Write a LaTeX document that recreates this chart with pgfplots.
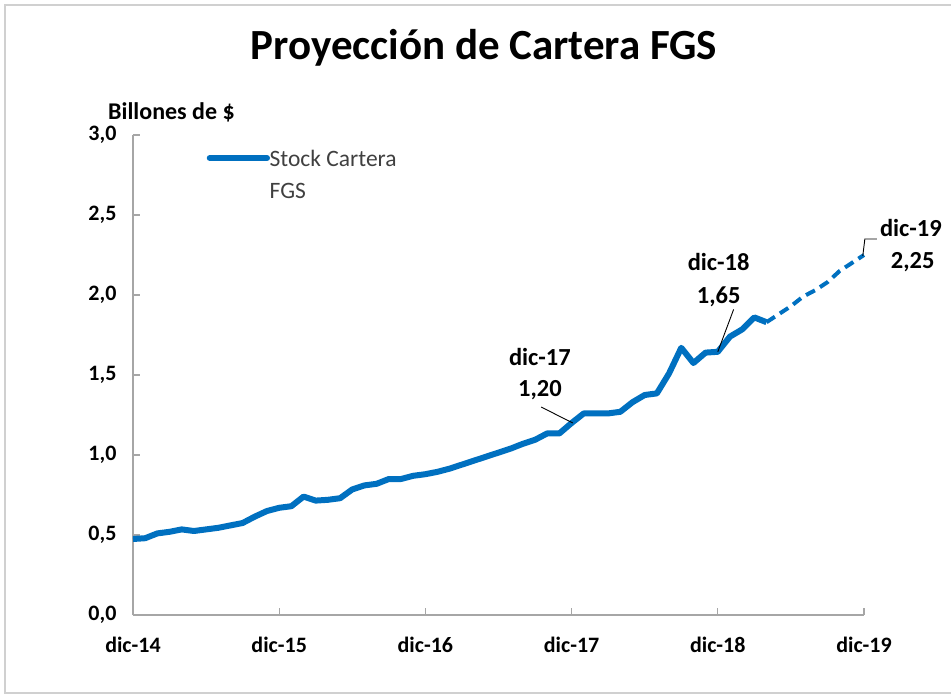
\documentclass[border=0pt]{standalone}
\usepackage{fontspec}
\setmainfont{Carlito}
\usepackage{pgfplots}
\pgfplotsset{compat=1.18}
\definecolor{cblue}{HTML}{0070C0}
\definecolor{caxis}{HTML}{A6A6A6}
\definecolor{cframe}{HTML}{D0D0D0}

\pgfplotstableread{
m  v
0  0.475
1  0.48
2  0.51
3  0.52
4  0.535
5  0.525
6  0.535
7  0.545
8  0.56
9  0.575
10 0.615
11 0.65
12 0.67
13 0.68
14 0.74
15 0.715
16 0.72
17 0.73
18 0.785
19 0.81
20 0.82
21 0.85
22 0.85
23 0.87
24 0.88
25 0.895
26 0.915
27 0.94
28 0.965
29 0.99
30 1.015
31 1.04
32 1.07
33 1.095
34 1.135
35 1.135
36 1.20
37 1.26
38 1.26
39 1.26
40 1.27
41 1.33
42 1.375
43 1.385
44 1.51
45 1.67
46 1.575
47 1.64
48 1.645
49 1.74
50 1.785
51 1.86
52 1.83
}\stock

\pgfplotstableread{
m  v
52 1.83
53 1.88
54 1.93
55 1.99
56 2.03
57 2.08
58 2.15
59 2.20
60 2.25
}\proj

\begin{document}
\begin{tikzpicture}[x=1pt,y=1pt]
\useasboundingbox (-133,-82) rectangle (818,615);
\draw[cframe, line width=2pt] (818,-78) -- (-128,-78) -- (-128,610) -- (818,610);
\node[anchor=base, font=\fontsize{43}{43}\selectfont\bfseries] at (351,555) {Proyección de Cartera FGS};
\node[anchor=base west, inner sep=0pt, font=\fontsize{24}{24}\selectfont\bfseries] at (-25,495) {Billones de \$};
\begin{axis}[
    width=731pt, height=480pt, scale only axis,
    xmin=0, xmax=60, ymin=0, ymax=3,
    axis x line*=bottom, axis y line*=left,
    x axis line style={-}, y axis line style={-},
    axis line style={caxis, line width=1.2pt},
    tick style={caxis, line width=1.2pt},
    tick align=inside, major tick length=7pt,
    xtick={0,12,...,60},
    xticklabels={dic-14,dic-15,dic-16,dic-17,dic-18,dic-19},
    ytick={0,0.5,...,3},
    ticklabel style={font=\fontsize{22}{22}\selectfont\bfseries},
    /pgf/number format/assume math mode=true,
    y tick label style={/pgf/number format/use comma, /pgf/number format/fixed,
        /pgf/number format/fixed zerofill, /pgf/number format/precision=1, xshift=-13pt},
    xticklabel style={yshift=-19pt},
    clip=false,
]
\addplot[cblue, line width=6pt, line join=round] table[x=m, y=v] {\stock};
\addplot[cblue, line width=4pt, dash pattern=on 10pt off 6pt] table[x=m, y=v] {\proj};

% legend
\draw[cblue, line width=6pt, line cap=round] (axis cs:6.3,2.856) -- (axis cs:11.0,2.856);
\node[anchor=base west, inner sep=0pt, text=black!75, font=\fontsize{23.5}{23.5}\selectfont] at (axis cs:11.2,2.806) {Stock Cartera};
\node[anchor=base west, inner sep=0pt, text=black!75, font=\fontsize{23.5}{23.5}\selectfont] at (axis cs:11.2,2.606) {FGS};

% annotations
\draw[black, line width=0.9pt] (axis cs:33.5,1.30) -- (axis cs:36.1,1.20);
\node[font=\fontsize{24.5}{24.5}\selectfont\bfseries] at (axis cs:33.4,1.61) {dic-17};
\node[font=\fontsize{24.5}{24.5}\selectfont\bfseries] at (axis cs:33.4,1.405) {1,20};
\draw[black, line width=0.9pt] (axis cs:49.3,1.91) -- (axis cs:48,1.645);
\node[font=\fontsize{24.5}{24.5}\selectfont\bfseries] at (axis cs:48.07,2.206) {dic-18};
\node[font=\fontsize{24.5}{24.5}\selectfont\bfseries] at (axis cs:48.07,1.99) {1,65};
\draw[black, line width=0.9pt] (axis cs:59.9,2.244) -- (axis cs:60.07,2.35) -- (axis cs:61.05,2.35);
\node[font=\fontsize{24.5}{24.5}\selectfont\bfseries] at (axis cs:63.85,2.42) {dic-19};
\node[font=\fontsize{24.5}{24.5}\selectfont\bfseries] at (axis cs:64.0,2.206) {2,25};
\end{axis}
\end{tikzpicture}
\end{document}
